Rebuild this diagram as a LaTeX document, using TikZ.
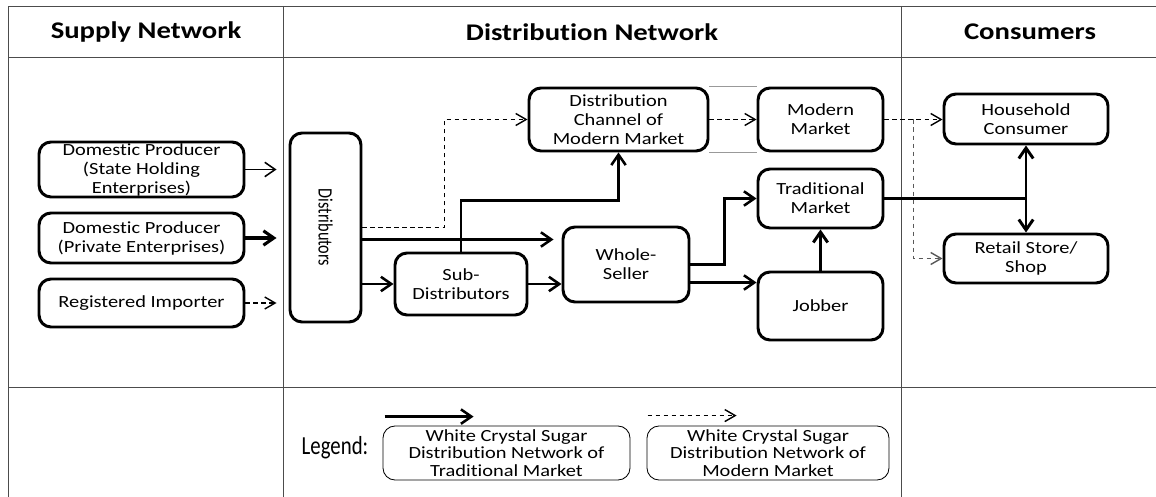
\documentclass[tikz,border=0pt]{standalone}
\usepackage{fontspec}
\usepackage{graphicx}
\setmainfont{Carlito}[FakeStretch=1.2, Ligatures=NoCommon]
\newfontfamily\narrowfont{Carlito}[FakeStretch=0.8, Ligatures=NoCommon]
\usetikzlibrary{arrows.meta}
\newcommand{\pxl}{0.025cm}
\tikzset{
  box/.style={draw, line width=2.1pt, rounded corners=0.3cm, align=center, inner sep=0pt,
    font=\fontsize{12.1pt}{13.5pt}\selectfont},
  legbox/.style={draw, line width=0.6pt, rounded corners=0.3cm, align=center, inner sep=0pt,
    font=\fontsize{12.1pt}{12.3pt}\selectfont},
  frame/.style={draw=black!70, line width=0.7pt},
  head/.style={font=\fontsize{17pt}{20pt}\selectfont\bfseries},
  flow/.style={line width=1.8pt, -{Straight Barb[length=2.6mm,width=3.6mm]}},
  mflow/.style={line width=1pt, dash pattern=on 1.2mm off 0.8mm, -{Straight Barb[length=2.6mm,width=3mm]}}
}
\begin{document}
\begin{tikzpicture}[x=0.025cm,y=-0.025cm]
\useasboundingbox (0,0) rectangle (1156,497);
\draw[frame] (8,497) -- (8,6) -- (1156,6);
\draw[frame] (8,57) -- (1156,57);
\draw[frame] (8,387) -- (1156,387);
\draw[frame] (283,6) -- (283,497);
\draw[frame] (901,6) -- (901,497);
\node[head] (hsup) at (146,32) {Supply Network};
\node[head] (hdis) at (592,32) {Distribution Network};
\node[head] (hcon) at (1030,32) {Consumers};
\node[box, minimum width=205*\pxl, minimum height=55*\pxl] (sa) at (141.5,169.5) {Domestic Producer\\(State Holding\\Enterprises)};
\node[box, minimum width=205*\pxl, minimum height=50*\pxl] (sb) at (141.5,238) {Domestic Producer\\(Private Enterprises)};
\node[box, minimum width=205*\pxl, minimum height=48*\pxl] (si) at (141.5,303) {Registered Importer};
\node[box, minimum width=71*\pxl, minimum height=189*\pxl] (dis) at (325.5,227.5) {\rotatebox{-90}{\narrowfont\fontsize{14.5pt}{16pt}\selectfont Distributors}};
\node[box, minimum width=179*\pxl, minimum height=63*\pxl] (dcmm) at (618.5,119.5) {Distribution\\Channel of\\Modern Market};
\node[box, minimum width=125*\pxl, minimum height=63*\pxl] (mm) at (820.5,119.5) {Modern\\Market};
\node[box, minimum width=125*\pxl, minimum height=59*\pxl] (tm) at (820.5,198.5) {Traditional\\Market};
\node[box, minimum width=126*\pxl, minimum height=75*\pxl] (ws) at (626,264.5) {Whole-\\Seller};
\node[box, minimum width=132*\pxl, minimum height=62*\pxl] (sub) at (461,284) {Sub-\\Distributors};
\node[box, minimum width=125*\pxl, minimum height=68*\pxl] (job) at (820.5,306) {Jobber};
\node[box, minimum width=164*\pxl, minimum height=50*\pxl] (hh) at (1026,119) {Household\\Consumer};
\node[box, minimum width=164*\pxl, minimum height=49*\pxl] (rs) at (1026,258.5) {Retail Store/\\Shop};
\draw[flow, line width=1.1pt, shorten >=0.3cm] (sa.east) -- (sa.east -| dis.west);
\draw[flow, line width=2.2pt, shorten >=0.3cm] (sb.east) -- (sb.east -| dis.west);
\draw[mflow, shorten >=0.3cm] (si.east) -- (si.east -| dis.west);
\draw[mflow] (dis.east) -- ++(82,0) |- (dcmm.west);
\coordinate (dlow) at ([yshift=-12*\pxl]dis.east);
\draw[flow, shorten >=0.2cm] (dlow) -- (dlow -| ws.west);
\draw[flow] (dis.east |- sub.west) -- (sub.west);
\draw[flow] (sub.east) -- (sub.east -| ws.west);
\draw[flow] (sub.north) -- ++(0,-51) -| (dcmm.south);
\draw[flow] (ws.east) -- ++(34,0) |- (tm.west);
\coordinate (wlow) at ([yshift=-18*\pxl]ws.east);
\draw[flow] (wlow) -- (wlow -| job.west);
\draw[flow, line width=2.1pt] (job.north) -- (tm.south);
\draw[flow, line width=2.1pt] (tm.east) -| (hh.south);
\draw[flow, line width=2.1pt] (tm.east -| rs.north) -- (rs.north);
\draw[mflow] (dcmm.east) -- (mm.west);
\draw[mflow] (mm.east) -- (mm.east -| hh.west);
\draw[mflow, draw=black!65] (mm.east) ++(29,0) |- (rs.west);
\draw[black!40, line width=0.5pt] (dcmm.north east) -- (mm.north west);
\draw[black!40, line width=0.5pt] (dcmm.south east) -- (mm.south west);
\node[font=\narrowfont\fontsize{18.5pt}{20pt}\selectfont] (leg) at (335,448) {Legend:};
\node[legbox, minimum width=247*\pxl, minimum height=54*\pxl] (lt) at (506.5,453) {White Crystal Sugar\\Distribution Network of\\Traditional Market};
\node[legbox, minimum width=242*\pxl, minimum height=54*\pxl] (lm) at (768,453) {White Crystal Sugar\\Distribution Network of\\Modern Market};
\draw[flow] (lt.north west) ++(2,-9) -- ++(89,0);
\draw[mflow] (lm.north west) ++(1,-10) -- ++(89,0);
\end{tikzpicture}
\end{document}
